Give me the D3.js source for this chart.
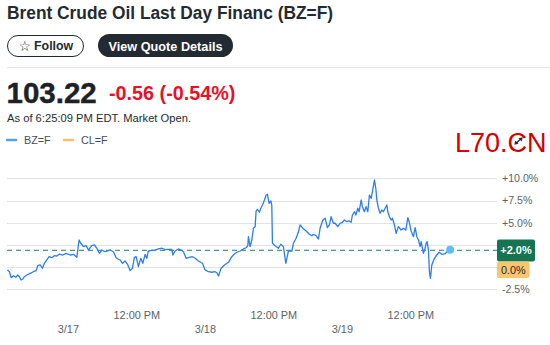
<!DOCTYPE html>
<html><head><meta charset="utf-8">
<script src="https://cdn.jsdelivr.net/npm/d3@7"></script>
<style>
html,body{margin:0;padding:0;background:#fff;}
svg{display:block;font-family:"Liberation Sans",Arial,sans-serif;}
</style></head>
<body>
<svg id="c" width="550" height="345"></svg>
<script>
// ---- data (hours since 3/17 00:00, % change) ----
const hours = [-10.68,-10.33,-10.03,-9.63,-9.21,-8.86,-8.58,-8.28,-7.98,-7.70,-7.28,-6.70,-6.12,-5.65,-5.35,-4.95,-4.55,-4.20,-3.78,-3.37,-2.90,-2.44,-2.02,-1.57,-0.97,-0.39,0.31,0.88,1.48,1.88,2.18,2.64,3.11,3.51,4.11,4.56,4.98,5.44,5.86,6.44,6.84,7.31,7.89,8.37,8.77,9.07,9.47,9.94,10.42,10.82,11.22,11.57,11.87,12.27,12.69,13.04,13.45,13.74,14.02,14.62,15.20,15.78,16.37,16.95,17.53,18.12,18.30,18.70,19.28,19.75,20.16,20.63,21.15,21.73,22.21,22.78,23.48,23.96,24.54,25.13,25.71,26.01,26.29,26.76,27.34,28.04,28.63,29.21,29.51,30.09,30.67,31.14,31.44,31.54,31.84,32.14,32.42,32.72,32.89,33.12,33.47,33.71,34.07,34.35,34.64,34.87,35.17,35.47,35.64,35.75,36.22,36.80,37.22,37.67,38.09,38.55,39.15,39.43,39.90,40.30,40.60,41.07,41.65,42.23,42.65,42.93,43.40,43.81,44.10,44.58,44.98,45.38,45.73,46.03,46.43,46.73,47.20,47.61,48.01,48.36,48.78,49.18,49.53,49.76,50.11,50.36,50.71,50.94,51.29,51.51,51.86,52.16,52.46,52.74,53.04,53.27,53.62,53.86,54.04,54.32,54.61,54.91,55.19,55.49,55.79,55.96,56.24,56.54,56.77,57.12,57.42,57.82,58.29,58.70,59.12,59.47,59.70,60.05,60.45,60.75,61.05,61.33,61.62,61.80,62.03,62.20,62.50,62.67,62.85,63.08,63.25,63.43,63.67,64.13,64.55,64.95,65.43,66.00,66.48,66.88];
const pct = [-0.31,-0.51,-1.18,-0.96,-1.14,-0.88,-1.07,-1.44,-1.33,-1.07,-0.88,-0.69,-0.51,-0.39,0.17,0.25,-0.12,0.44,0.81,1.18,1.07,1.29,1.26,1.48,1.37,1.56,1.37,1.45,1.11,3.06,2.69,2.31,2.42,1.93,2.42,2.50,2.13,1.56,1.93,1.74,1.82,1.93,1.74,1.07,0.89,0.81,0.44,0.70,0.25,-0.39,-0.12,1.11,1.18,0.06,1.00,0.44,1.45,1.00,1.82,1.90,1.93,2.05,2.13,1.97,2.01,2.01,1.37,1.82,2.05,1.93,1.74,1.00,1.11,1.18,1.00,0.70,0.44,-0.31,-0.51,-0.57,-0.51,-0.62,-0.99,-0.12,0.25,0.55,1.18,1.56,1.68,1.82,2.05,2.19,2.42,3.43,2.31,3.06,4.38,4.56,6.32,6.51,6.18,6.63,7.08,7.56,8.12,8.20,7.19,7.45,6.92,2.69,2.42,2.13,2.58,2.31,0.44,1.82,1.82,2.69,3.25,3.99,4.75,4.38,4.07,3.70,3.54,3.70,3.54,3.17,4.38,5.31,5.50,4.44,4.75,5.68,4.94,4.94,4.56,4.94,5.05,5.31,5.12,5.20,5.05,5.87,6.24,5.87,6.63,6.24,7.56,6.81,6.24,6.81,6.24,8.12,7.75,8.49,9.81,8.88,7.56,6.63,6.06,6.43,6.24,6.63,7.00,6.24,5.68,5.31,5.50,4.75,3.81,4.56,4.18,4.38,4.18,5.57,5.12,4.07,3.43,4.44,3.43,3.06,2.31,2.87,2.13,1.56,2.13,2.69,2.87,1.93,-0.51,-1.25,0.25,1.00,1.37,1.68,1.45,1.52,1.82,1.97];
const yTicks = [-2.5, 0, 2.5, 5, 7.5, 10];
// labels hidden behind the value badges in the reference are left empty
const yTickLabels = ["-2.5%", "", "", "+5.0%", "+7.5%", "+10.0%"];
const dayTickHours = [0, 24, 48];
const dayTickLabels = ["3/17", "3/18", "3/19"];
const noonTickHours = [12, 36, 60];
const noonTickLabels = ["12:00 PM", "12:00 PM", "12:00 PM"];
const refLevel = 1.9;
const lastLabel = "+2.0%";
const compareLabel = "0.0%";
const legendNames = ["BZ=F", "CL=F"];
const price = "103.22";
const change = "-0.56 (-0.54%)";

// ---- setup ----
const svg = d3.select("#c");
const base = new Date(2022, 2, 17, 0, 0);
const H = 3600e3;
const toDate = h => new Date(base.getTime() + h * H);
const data = hours.map((h, i) => ({ t: toDate(h), v: pct[i] }));

const x = d3.scaleTime()
  .domain([toDate(-10.75), toDate(75.09)])
  .range([7, 497]);
const y = d3.scaleLinear().domain([-2.5, 10]).range([289.4, 178.3]);

// ---- header ----
svg.append("text").attr("x", 7).attr("y", 18.5)
  .attr("font-size", 18.3).attr("font-weight", "bold").attr("fill", "#232a31")
  .attr("textLength", 326).attr("lengthAdjust", "spacingAndGlyphs")
  .text("Brent Crude Oil Last Day Financ (BZ=F)");

// Follow button
svg.append("rect").attr("x", 7.5).attr("y", 35.5).attr("width", 76).attr("height", 21)
  .attr("rx", 10.5).attr("fill", "#fff").attr("stroke", "#232a31").attr("stroke-width", 1);
svg.append("text").attr("x", 18.5).attr("y", 51).attr("font-size", 14)
  .attr("font-family", "DejaVu Sans").attr("fill", "#232a31").text("☆");
svg.append("text").attr("x", 34).attr("y", 50.3).attr("font-size", 12.4)
  .attr("font-weight", "bold").attr("fill", "#232a31").text("Follow");

// View Quote Details
svg.append("rect").attr("x", 98).attr("y", 34).attr("width", 135).attr("height", 23)
  .attr("rx", 11.5).attr("fill", "#232a31");
svg.append("text").attr("x", 165.5).attr("y", 50.5).attr("text-anchor", "middle")
  .attr("font-size", 12.7).attr("font-weight", "bold").attr("fill", "#fff")
  .text("View Quote Details");

// separator
svg.append("line").attr("x1", 7).attr("x2", 550).attr("y1", 67.5).attr("y2", 67.5)
  .attr("stroke", "#e3e6ea").attr("stroke-width", 1);

// price
svg.append("text").attr("x", 6.5).attr("y", 103.3).attr("font-size", 29.5)
  .attr("font-weight", "bold").attr("fill", "#1d2228").attr("stroke", "#1d2228")
  .attr("stroke-width", 0.4).text(price);
svg.append("text").attr("x", 109).attr("y", 100).attr("font-size", 19.8)
  .attr("font-weight", "bold").attr("fill", "#eb0f29").text(change);
svg.append("text").attr("x", 7).attr("y", 122.3).attr("font-size", 11.2)
  .attr("fill", "#232a31").text("As of 6:25:09 PM EDT. Market Open.");

// legend
const legColors = ["#5aa2dc", "#f6c26e"];
const legX = [7, 64];
legendNames.forEach((n, i) => {
  svg.append("line").attr("x1", legX[i]).attr("x2", legX[i] + 9).attr("y1", 140).attr("y2", 140)
    .attr("stroke", legColors[i]).attr("stroke-width", 2.5).attr("stroke-linecap", "round");
  svg.append("text").attr("x", legX[i] + 17).attr("y", 143.6).attr("font-size", 10.8)
    .attr("fill", "#464e56").text(n);
});

// watermark
svg.append("text").attr("x", 455).attr("y", 152.3).attr("font-size", 27)
  .attr("fill", "#d50000").text("L70.CN");
const ax = [514.3, 144.8], bx = [522.7, 137.2];
svg.append("line").attr("x1", ax[0] + 2).attr("y1", ax[1] - 1.8).attr("x2", bx[0] - 2).attr("y2", bx[1] + 1.8)
  .attr("stroke", "#2b2b2b").attr("stroke-width", 1.3);
svg.append("path").attr("d", `M${ax[0]},${ax[1]} l1,-4.3 l3.3,3.3 z`).attr("fill", "#2b2b2b");
svg.append("path").attr("d", `M${bx[0]},${bx[1]} l-1,4.3 l-3.3,-3.3 z`).attr("fill", "#2b2b2b");

// ---- chart ----
const g = svg.append("g");
g.selectAll("line.grid").data(yTicks).enter().append("line")
  .attr("class", "grid")
  .attr("x1", 7).attr("x2", 497)
  .attr("y1", d => Math.round(y(d)) + 0.5).attr("y2", d => Math.round(y(d)) + 0.5)
  .attr("stroke", "#e0e3e7").attr("stroke-width", 1);

g.selectAll("text.ytick").data(yTicks.filter((d, i) => yTickLabels[i])).enter().append("text")
  .attr("class", "ytick")
  .attr("x", 502).attr("y", d => y(d) + 3.8)
  .attr("font-size", 10.6).attr("fill", "#5b636a")
  .text(d => yTickLabels[yTicks.indexOf(d)]);

// reference dashed line
g.append("line").attr("x1", 7).attr("x2", 497)
  .attr("y1", y(refLevel)).attr("y2", y(refLevel))
  .attr("stroke", "#1e7d5d").attr("stroke-width", 1).attr("stroke-dasharray", "5,4");

// price line
const line = d3.line().x(d => x(d.t)).y(d => y(d.v)).curve(d3.curveLinear);
g.append("path").datum(data).attr("d", line)
  .attr("fill", "none").attr("stroke", "#2d7cf0").attr("stroke-width", 1.3)
  .attr("stroke-linejoin", "round");

const last = data[data.length - 1];
g.append("circle").attr("cx", x(last.t)).attr("cy", y(last.v)).attr("r", 4)
  .attr("fill", "#5cc0f8");

// x axis labels
noonTickHours.forEach((h, i) => {
  g.append("text").attr("x", x(toDate(h))).attr("y", 319).attr("text-anchor", "middle")
    .attr("font-size", 10.9).attr("fill", "#5b636a").text(noonTickLabels[i]);
});
dayTickHours.forEach((h, i) => {
  g.append("text").attr("x", x(toDate(h))).attr("y", 332.5).attr("text-anchor", "middle")
    .attr("font-size", 10.9).attr("fill", "#5b636a").text(dayTickLabels[i]);
});

// value badges
g.append("rect").attr("x", 497).attr("y", 239.5).attr("width", 38).attr("height", 22)
  .attr("rx", 2).attr("fill", "#157552");
g.append("text").attr("x", 516).attr("y", 254.3).attr("text-anchor", "middle")
  .attr("font-size", 11).attr("font-weight", "bold").attr("fill", "#fff").text(lastLabel);
g.append("rect").attr("x", 497).attr("y", 261.5).attr("width", 32.5).attr("height", 16.5)
  .attr("rx", 2).attr("fill", "#f8c66e");
g.append("text").attr("x", 513.3).attr("y", 273.7).attr("text-anchor", "middle")
  .attr("font-size", 10.8).attr("fill", "#232a31").text(compareLabel);
</script>
</body></html>
